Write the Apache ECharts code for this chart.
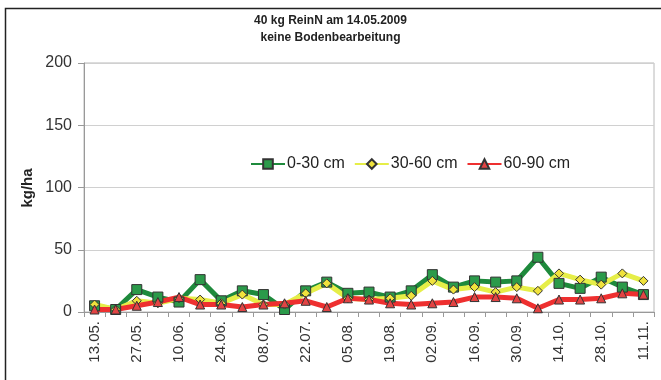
<!DOCTYPE html>
<html>
<head>
<meta charset="utf-8">
<script src="https://cdn.jsdelivr.net/npm/echarts@6/dist/echarts.min.js"></script>
<style>
  html, body { margin: 0; padding: 0; background: #fff; }
  #chart { width: 661px; height: 380px; }
</style>
</head>
<body>
<div id="chart"></div>
<script>
// Weekly sampling dates (Nmin measurement)
const dates = ['13.05.', '20.05.', '27.05.', '03.06.', '10.06.', '17.06.', '24.06.', '01.07.', '08.07.',
  '15.07.', '22.07.', '29.07.', '05.08.', '12.08.', '19.08.', '26.08.', '02.09.', '09.09.', '16.09.',
  '23.09.', '30.09.', '07.10.', '14.10.', '21.10.', '28.10.', '04.11.', '11.11.'];

// Nitrate-N per soil layer, kg/ha
const layer0to30 = [5, 2, 18, 12, 8, 26, 9, 17, 14, 2, 17, 24, 15, 16, 12, 17, 30, 20, 25, 24, 25, 44, 23, 19, 28, 20, 14];
const layer30to60 = [6, 2, 9, 7, 11, 10, 7, 14, 6, 6, 15, 23, 11, 10, 11, 13, 25, 18, 20, 16, 20, 17, 31, 26, 22, 31, 25];
const layer60to90 = [2, 2, 5, 8, 12, 6, 6, 4, 6, 7, 9, 4, 11, 10, 7, 6, 7, 8, 12, 12, 11, 3, 10, 10, 11, 15, 14];

const yTicks = { min: 0, max: 200, interval: 50 };

const chart = echarts.init(document.getElementById('chart'), null, { renderer: 'canvas' });

const font = 'Liberation Sans, Arial, sans-serif';

function lineSeries(name, data, lineColor, fill, symbol, size) {
  return {
    name: name,
    type: 'line',
    data: data,
    symbol: symbol,
    symbolSize: size,
    showAllSymbol: true,
    lineStyle: { color: lineColor, width: 5 },
    itemStyle: { color: fill, borderColor: '#333', borderWidth: 1 },
    emphasis: { disabled: true },
    animation: false
  };
}

chart.setOption({
  backgroundColor: '#fff',
  animation: false,
  textStyle: { fontFamily: font },
  grid: {
    left: 84, right: 7, top: 63, bottom: 68,
    show: true, borderColor: '#b8b8b8', borderWidth: 1
  },
  legend: {
    left: 245, top: 151,
    itemWidth: 34, itemHeight: 12, itemGap: 9,
    textStyle: { fontSize: 16, color: '#222', fontFamily: font, padding: [0, 0, 0, -3] },
    data: ['0-30 cm', '30-60 cm', '60-90 cm']
  },
  xAxis: {
    type: 'category',
    data: dates,
    boundaryGap: true,
    axisLine: { lineStyle: { color: '#999', width: 1 } },
    axisTick: { show: true, interval: 0, length: 5, lineStyle: { color: '#999' } },
    axisLabel: {
      interval: 1, rotate: 90, fontSize: 15, color: '#333', margin: 9, fontFamily: font
    },
    splitLine: { show: false }
  },
  yAxis: {
    type: 'value',
    min: yTicks.min, max: yTicks.max, interval: yTicks.interval,
    axisLine: { show: true, lineStyle: { color: '#999' } },
    axisTick: { show: true, length: 6, lineStyle: { color: '#999' } },
    axisLabel: { fontSize: 16, color: '#333', margin: 12, fontFamily: font },
    splitLine: { show: true, lineStyle: { color: '#d0d0d0', width: 1 } }
  },
  graphic: [
    {
      type: 'text', left: 'center', top: 12,
      style: {
        text: '40 kg ReinN am 14.05.2009\nkeine Bodenbearbeitung',
        fontSize: 12, fontWeight: 'bold', fill: '#222', fontFamily: font,
        textAlign: 'center', lineHeight: 17
      }
    },
    {
      type: 'text', x: 28, y: 188, rotation: Math.PI / 2,
      style: {
        text: 'kg/ha', fontSize: 15, fontWeight: 'bold', fill: '#222', fontFamily: font,
        textAlign: 'center', textVerticalAlign: 'middle'
      }
    },
    {
      type: 'polyline', silent: true,
      shape: { points: [[5.5, 380], [5.5, 8.5], [661, 8.5]] },
      style: { stroke: '#222', lineWidth: 1.5, fill: null }
    }
  ],
  series: [
    lineSeries('0-30 cm', layer0to30, '#1e8a3c', '#2b9a4a', 'rect', 10),
    lineSeries('30-60 cm', layer30to60, '#e6ee48', '#f0e23c', 'diamond', 9),
    lineSeries('60-90 cm', layer60to90, '#ee3030', '#e24444', 'triangle', 9)
  ]
});
</script>
</body>
</html>
